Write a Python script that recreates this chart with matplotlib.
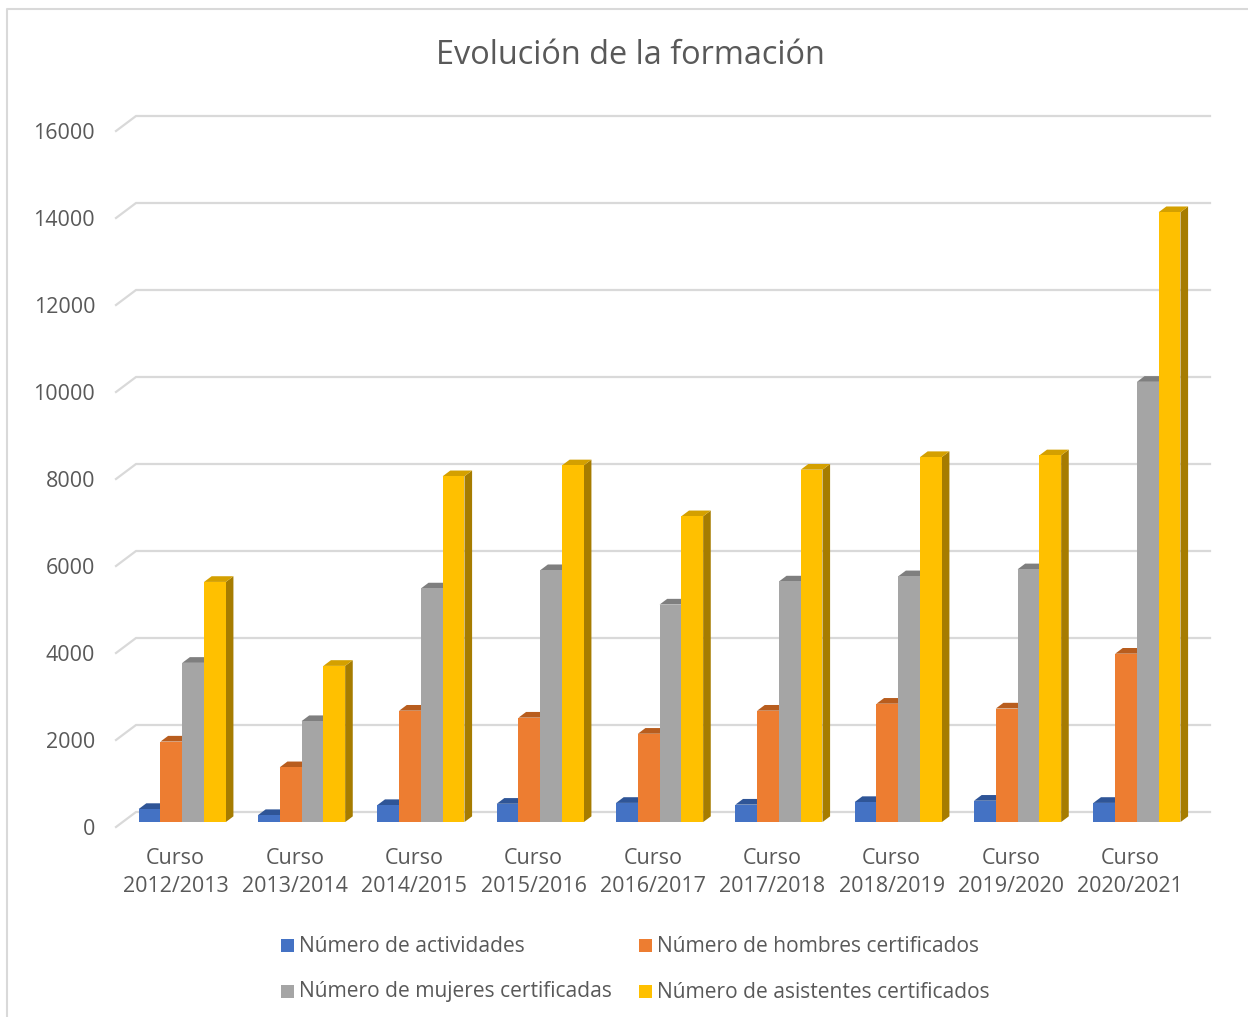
import matplotlib
matplotlib.use("Agg")
import matplotlib.pyplot as plt
from matplotlib.patches import Polygon, Rectangle
from matplotlib.lines import Line2D

# ---------------- data ----------------
categories = ["Curso\n2012/2013", "Curso\n2013/2014", "Curso\n2014/2015",
              "Curso\n2015/2016", "Curso\n2016/2017", "Curso\n2017/2018",
              "Curso\n2018/2019", "Curso\n2019/2020", "Curso\n2020/2021"]
series_names = ["Número de actividades", "Número de hombres certificados",
                "Número de mujeres certificadas", "Número de asistentes certificados"]
actividades = [300, 160, 390, 420, 440, 400, 460, 490, 440]
hombres = [1850, 1260, 2560, 2400, 2030, 2560, 2720, 2610, 3870]
mujeres = [3660, 2320, 5370, 5790, 5000, 5530, 5650, 5810, 10120]
asistentes = [5520, 3590, 7950, 8200, 7030, 8100, 8390, 8430, 14020]
series_values = [actividades, hombres, mujeres, asistentes]
y_ticks = [0, 2000, 4000, 6000, 8000, 10000, 12000, 14000, 16000]

# ---------------- styles ----------------
front_cols = ["#4472C4", "#ED7D31", "#A5A5A5", "#FFC000"]
top_cols = ["#2F5597", "#B85D1E", "#7F7F7F", "#D4A000"]
side_cols = ["#2B4C84", "#A3521B", "#757575", "#A67C00"]
text_col = "#595959"
grid_col = "#D9D9D9"
FONT = "Open Sans"

W, H = 1248, 1017
fig = plt.figure(figsize=(W / 100, H / 100), dpi=100)

# axes in pixel coordinates of the front plane
x0_px, x1_px = 116, 1190
y0_px, y1_px = 827, 131
ax = fig.add_axes([x0_px / W, 1 - y0_px / H, (x1_px - x0_px) / W, (y0_px - y1_px) / H])
ax.set_xlim(-0.5, 8.5)
ax.set_ylim(0, 16000)
ax.patch.set_alpha(0)
for s in ax.spines.values():
    s.set_visible(False)

px_x = (x1_px - x0_px) / 9.0
px_y = (y0_px - y1_px) / 16000.0
DEPTH_DX, DEPTH_DY = 20.0, 15.0  # pixels


def off(frac):
    return DEPTH_DX * frac / px_x, DEPTH_DY * frac / px_y


# gridlines: left wall diagonal + back wall horizontal
bdx, bdy = off(1.0)
for v in y_ticks:
    ax.add_line(Line2D([-0.5, -0.5 + bdx, 8.5 + bdx], [v, v + bdy, v + bdy],
                       color=grid_col, lw=1.6, zorder=1, clip_on=False,
                       solid_joinstyle="miter"))

# bars
fdx, fdy = off(0.33)
kdx, kdy = off(0.71)
group_w = 0.73
bar_w = group_w / 4
for i in range(len(categories)):
    for j, vals in enumerate(series_values):
        v = vals[i]
        xl = i - group_w / 2 + j * bar_w
        xr = xl + bar_w
        z = 3 + j * 0.1
        side = Polygon([(xr + fdx, fdy), (xr + kdx, kdy), (xr + kdx, v + kdy), (xr + fdx, v + fdy)],
                       closed=True, facecolor=side_cols[j], edgecolor="none", zorder=z, clip_on=False)
        top = Polygon([(xl + fdx, v + fdy), (xr + fdx, v + fdy), (xr + kdx, v + kdy), (xl + kdx, v + kdy)],
                      closed=True, facecolor=top_cols[j], edgecolor="none", zorder=z, clip_on=False)
        front = Rectangle((xl + fdx, fdy), bar_w, v, facecolor=front_cols[j],
                          edgecolor="none", zorder=z + 0.01, clip_on=False)
        ax.add_patch(side)
        ax.add_patch(top)
        ax.add_patch(front)

# ticks
ax.set_yticks(y_ticks)
ax.set_yticklabels([str(t) for t in y_ticks], fontsize=15.5, color=text_col, family=FONT)
ax.set_xticks(range(len(categories)))
ax.set_xticklabels(categories, fontsize=15.5, color=text_col, family=FONT, linespacing=1.42)
ax.tick_params(axis="y", length=0, pad=15)
ax.tick_params(axis="x", length=0, pad=15)

# title
fig.text(630 / W, 1 - 55 / H, "Evolución de la formación", ha="center", va="center",
         fontsize=23.4, color=text_col, family=FONT)

# legend (manual)
leg_pos = [(281, 946), (639, 946), (281, 992), (639, 992)]
for (lx, ly), name, col in zip(leg_pos, series_names, front_cols):
    fig.patches.append(Rectangle((lx / W, 1 - (ly + 6) / H), 13 / W, 13 / H,
                                 transform=fig.transFigure, facecolor=col, edgecolor="none"))
    fig.text((lx + 18) / W, 1 - ly / H, name, ha="left", va="center",
             fontsize=15.1, color=text_col, family=FONT)

# chart border (left and top edges)
fig.add_artist(Line2D([6.5 / W, 6.5 / W, 1.0], [0.0, 1 - 8.5 / H, 1 - 8.5 / H],
                      transform=fig.transFigure, color=grid_col, lw=1.5))

fig.savefig("out.png", dpi=100, facecolor="white")
